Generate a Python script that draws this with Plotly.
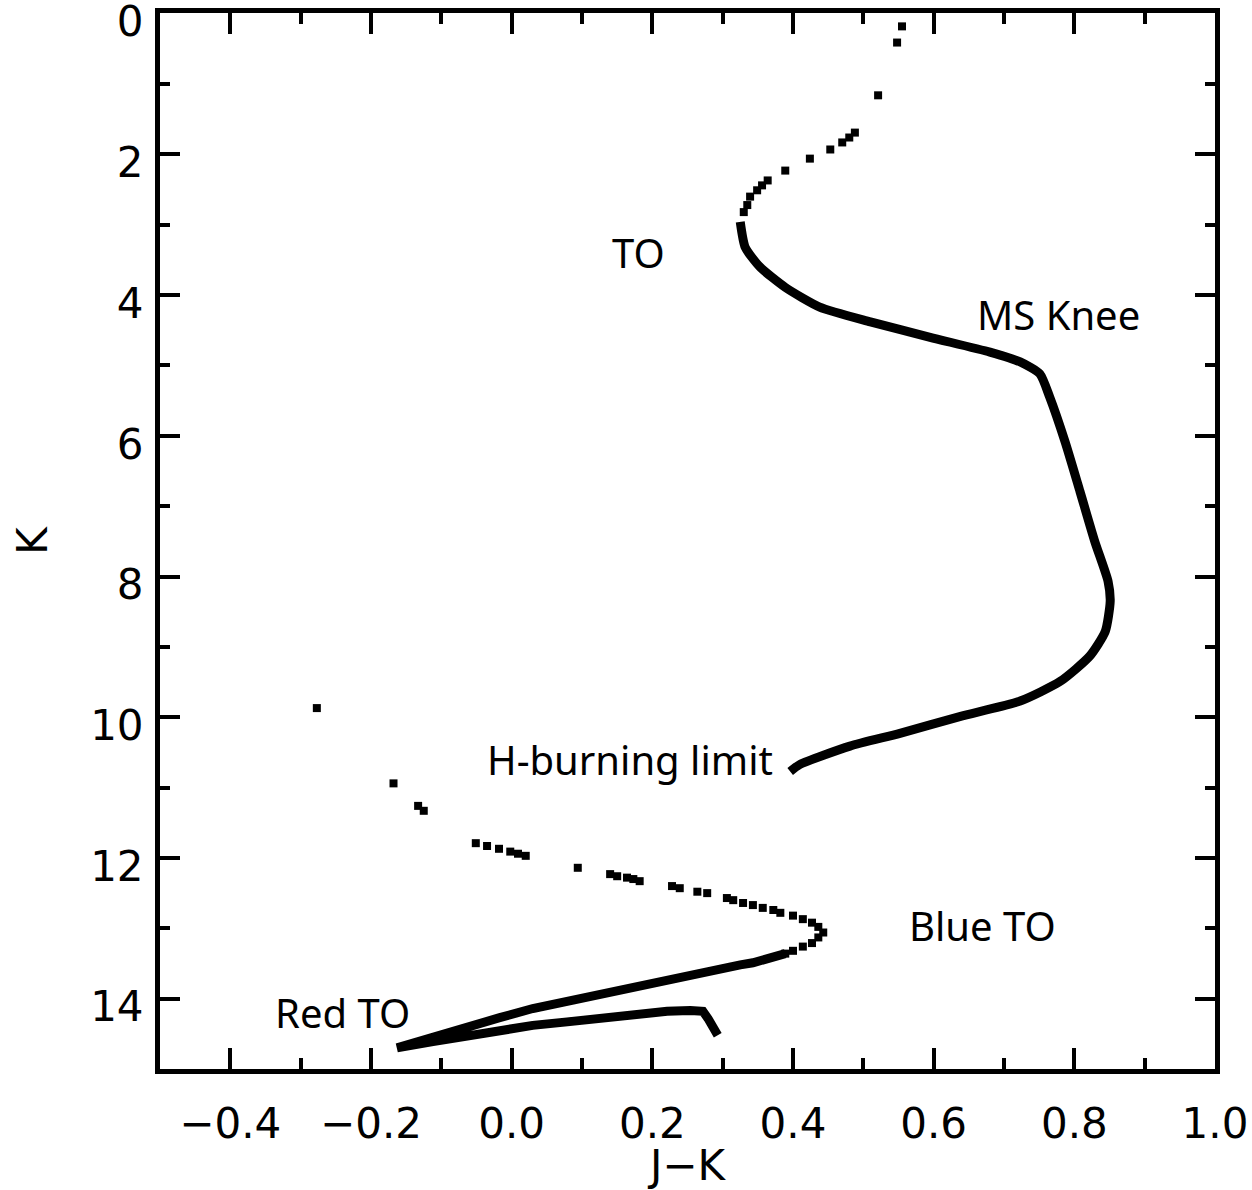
import plotly.graph_objects as go

# ---------------- data (J-K colour, K magnitude) ----------------
# upper sparse points above the turn-off
upper_dots_jk = [0.555, 0.548, 0.521, 0.488, 0.480, 0.470, 0.453, 0.424, 0.389, 0.364, 0.356, 0.349, 0.339, 0.335, 0.330]
upper_dots_k = [0.18, 0.41, 1.16, 1.69, 1.76, 1.83, 1.93, 2.06, 2.23, 2.37, 2.44, 2.51, 2.60, 2.72, 2.82]

# dense main sequence from TO down to H-burning limit
ms_jk = [0.325, 0.332, 0.353, 0.389, 0.438, 0.510, 0.595, 0.680, 0.723, 0.751, 0.765, 0.787, 0.808, 0.829,
         0.848, 0.851, 0.844, 0.822, 0.780, 0.723, 0.637, 0.552, 0.481, 0.410, 0.396]
ms_k = [2.96, 3.32, 3.60, 3.89, 4.17, 4.38, 4.60, 4.81, 4.95, 5.12, 5.45, 6.09, 6.79, 7.50,
        8.07, 8.35, 8.78, 9.13, 9.49, 9.77, 9.99, 10.23, 10.41, 10.67, 10.77]

# lower sparse points (brown-dwarf / cooling sequence)
low_dots_jk = [-0.277, -0.168, -0.133, -0.125, -0.051, -0.035, -0.018, -0.002, 0.009, 0.020, 0.094,
               0.140, 0.150, 0.164, 0.173, 0.182, 0.228, 0.239, 0.264, 0.278, 0.306, 0.315, 0.329,
               0.343, 0.357, 0.372, 0.382, 0.400, 0.414, 0.427, 0.436, 0.443, 0.436, 0.427, 0.414,
               0.400, 0.389]
low_dots_k = [9.87, 10.94, 11.26, 11.33, 11.79, 11.83, 11.87, 11.91, 11.94, 11.97, 12.14,
              12.23, 12.26, 12.28, 12.30, 12.33, 12.40, 12.43, 12.48, 12.50, 12.57, 12.60, 12.64,
              12.67, 12.71, 12.74, 12.78, 12.82, 12.87, 12.92, 12.98, 13.06, 13.13, 13.21, 13.26,
              13.32, 13.36]

# dense lower branch from blue TO through red TO and back
low_line_jk = [0.389, 0.377, 0.363, 0.343, 0.325, 0.301, 0.278, 0.254, 0.229, 0.207, 0.183, 0.158, 0.136,
               0.111, 0.087, 0.047, 0.030, -0.017, -0.063, -0.112, -0.163,
               -0.112, -0.063, -0.017, 0.030, 0.079, 0.126, 0.173, 0.221, 0.254, 0.272, 0.279,
               0.286, 0.293]
low_line_k = [13.36, 13.40, 13.43, 13.49, 13.52, 13.57, 13.65, 13.70, 13.74, 13.79, 13.84, 13.89, 13.93,
              13.99, 14.03, 14.10, 14.14, 14.27, 14.40, 14.55, 14.70,
              14.61, 14.52, 14.45, 14.38, 14.33, 14.27, 14.23, 14.18, 14.17, 14.18, 14.28,
              14.41, 14.52]

# annotation labels
label_text = ["TO", "MS Knee", "H-burning limit", "Blue TO", "Red TO"]
label_jk = [0.180, 0.778, 0.168, 0.670, -0.241]
label_k = [3.39, 4.28, 10.60, 12.96, 14.20]

x_tickvals = [-0.4, -0.2, 0.0, 0.2, 0.4, 0.6, 0.8, 1.0]
x_ticktext = ["\u22120.4", "\u22120.2", "0.0", "0.2", "0.4", "0.6", "0.8", "1.0"]
y_tickvals = [0, 2, 4, 6, 8, 10, 12, 14]
y_ticktext = ["0", "2", "4", "6", "8", "10", "12", "14"]

# ---------------- figure ----------------
fig = go.Figure()
fig.add_trace(go.Scatter(x=upper_dots_jk, y=upper_dots_k, mode="markers",
                         marker=dict(color="black", size=8, symbol="square"), showlegend=False))
fig.add_trace(go.Scatter(x=ms_jk, y=ms_k, mode="lines",
                         line=dict(color="black", width=9, shape="spline", smoothing=0.6), showlegend=False))
fig.add_trace(go.Scatter(x=low_dots_jk, y=low_dots_k, mode="markers",
                         marker=dict(color="black", size=8, symbol="square"), showlegend=False))
fig.add_trace(go.Scatter(x=low_line_jk, y=low_line_k, mode="lines",
                         line=dict(color="black", width=9), showlegend=False))

for t, xv, yv in zip(label_text, label_jk, label_k):
    fig.add_annotation(x=xv, y=yv, text=t, showarrow=False,
                       font=dict(family="Noto Sans", size=40, color="black"))

tickfont = dict(family="DejaVu Sans", size=42, color="black")
common = dict(showgrid=False, zeroline=False, showline=True, linecolor="black", linewidth=5,
              mirror="allticks", ticks="inside", tickcolor="black", tickwidth=4,
              tickfont=tickfont, ticklabeloverflow="allow", automargin=False)

fig.update_xaxes(range=[-0.5, 1.0], tickmode="array", tickvals=x_tickvals, ticktext=x_ticktext,
                 ticklen=21, ticklabelstandoff=14,
                 minor=dict(tickmode="linear", tick0=-0.5, dtick=0.1, ticks="inside", ticklen=11,
                            tickwidth=4, tickcolor="black"),
                 title=dict(text="J\u2212K", font=tickfont, standoff=4), **common)
fig.update_yaxes(range=[15, -0.01], tickmode="array", tickvals=y_tickvals, ticktext=y_ticktext,
                 ticklen=20, ticklabelstandoff=3, ticklabelshift=-8,
                 minor=dict(tickmode="linear", tick0=0, dtick=1, ticks="inside", ticklen=10,
                            tickwidth=4, tickcolor="black"),
                 title=dict(text="K", font=tickfont, standoff=31), **common)

fig.update_layout(width=1252, height=1190, margin=dict(l=160, r=37, t=13, b=121),
                  plot_bgcolor="white", paper_bgcolor="white")

fig.write_html("out.html")
